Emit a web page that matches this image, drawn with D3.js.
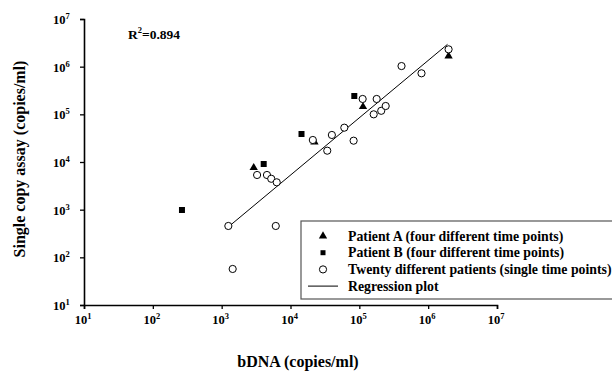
<!DOCTYPE html>
<html>
<head>
<meta charset="utf-8">
<script src="https://cdn.jsdelivr.net/npm/d3@7"></script>
<style>
   body { margin: 0; background: #fff; }
   svg { display: block; font-family: "Liberation Serif", "Times New Roman", serif; font-weight: bold; }
</style>
</head>
<body>
<div id="chart"></div>
<script>
"use strict";

// values (bDNA, single copy assay), copies/ml
const patientA = [
   [2920, 7600], [22300, 26300], [113000, 144600], [1.98e6, 1.67e6]
];
const patientB = [
   [265, 985], [4080, 9080], [14450, 38700], [84500, 242500]
];
const twentyPatients = [
   [1250, 455], [1445, 57], [3270, 5340], [4550, 5340], [5250, 4450],
   [6310, 3750], [6110, 455], [21100, 28950], [34200, 17270], [39900, 36900],
   [60500, 52500], [82600, 28000], [111700, 210000], [178600, 210000], [161700, 100000],
   [208000, 118600], [241500, 149600], [410000, 1.03e6], [800000, 726000], [1.98e6, 2.31e6]
];
const regression = [[1262, 440], [1.91e6, 2.94e6]];
const decades = [1, 2, 3, 4, 5, 6, 7];
const legendLabels = [
   "Patient A (four different time points)",
   "Patient B (four different time points)",
   "Twenty different patients (single time points)",
   "Regression plot"
];

(function () {
   const width = 612;
   const height = 371;

   const x = d3.scaleLog().domain([10, 1e7]).range([84, 497]);
   const y = d3.scaleLog().domain([10, 1e7]).range([305, 19]);

   const svg = d3.select("#chart").append("svg")
      .attr("width", width)
      .attr("height", height);

   // axes
   const xAxis = d3.axisBottom(x)
      .tickValues(decades.map(d => Math.pow(10, d)))
      .tickSize(4)
      .tickFormat("");
   const yAxis = d3.axisLeft(y)
      .tickValues(decades.map(d => Math.pow(10, d)))
      .tickSize(4)
      .tickFormat("");

   const gx = svg.append("g")
      .attr("transform", `translate(0,${y(10)})`)
      .call(xAxis);
   const gy = svg.append("g")
      .attr("transform", `translate(${x(10)},0)`)
      .call(yAxis);

   [gx, gy].forEach(g => {
      g.selectAll("path, line").attr("stroke", "#000").attr("stroke-width", 1.3);
      g.select(".domain").attr("stroke-width", 1.6);
   });

   function powerLabel(sel, exp) {
      sel.append("tspan").text("10");
      sel.append("tspan")
         .attr("dy", -5)
         .attr("font-size", 8.5)
         .text(exp);
   }

   svg.append("g").selectAll("text")
      .data(decades)
      .join("text")
      .attr("x", d => x(Math.pow(10, d)) - 1)
      .attr("y", 324)
      .attr("text-anchor", "middle")
      .attr("font-size", 12.5)
      .each(function (d) { powerLabel(d3.select(this), d); });

   svg.append("g").selectAll("text")
      .data(decades)
      .join("text")
      .attr("x", 53)
      .attr("y", d => y(Math.pow(10, d)) + 5)
      .attr("font-size", 12.5)
      .each(function (d) { powerLabel(d3.select(this), d); });

   // axis titles
   svg.append("text")
      .attr("x", 298)
      .attr("y", 367)
      .attr("text-anchor", "middle")
      .attr("font-size", 16)
      .text("bDNA (copies/ml)");

   svg.append("text")
      .attr("transform", "translate(25,159) rotate(-90)")
      .attr("text-anchor", "middle")
      .attr("font-size", 16)
      .text("Single copy assay (copies/ml)");

   const r2 = svg.append("text")
      .attr("x", 128)
      .attr("y", 39)
      .attr("font-size", 13.5);
   r2.append("tspan").text("R");
   r2.append("tspan").attr("dy", -6).attr("font-size", 8.5).text("2");
   r2.append("tspan").attr("dy", 6).text("=0.894");

   // regression line
   svg.append("line")
      .attr("x1", x(regression[0][0]))
      .attr("y1", y(regression[0][1]))
      .attr("x2", x(regression[1][0]))
      .attr("y2", y(regression[1][1]))
      .attr("stroke", "#000")
      .attr("stroke-width", 1);

   const triangle = d3.symbol().type(d3.symbolTriangle).size(30);
   const square = d3.symbol().type(d3.symbolSquare).size(36);

   svg.append("g").selectAll("path")
      .data(patientA)
      .join("path")
      .attr("transform", d => `translate(${x(d[0])},${y(d[1])})`)
      .attr("d", triangle)
      .attr("fill", "#000");

   svg.append("g").selectAll("path")
      .data(patientB)
      .join("path")
      .attr("transform", d => `translate(${x(d[0])},${y(d[1])})`)
      .attr("d", square)
      .attr("fill", "#000");

   svg.append("g").selectAll("circle")
      .data(twentyPatients)
      .join("circle")
      .attr("cx", d => x(d[0]))
      .attr("cy", d => y(d[1]))
      .attr("r", 3.6)
      .attr("fill", "#fff")
      .attr("stroke", "#000")
      .attr("stroke-width", 1);

   // legend
   const legend = svg.append("g").attr("transform", "translate(301,221)");
   legend.append("rect")
      .attr("width", 330)
      .attr("height", 78)
      .attr("fill", "#fff")
      .attr("stroke", "#555")
      .attr("stroke-width", 1.2);

   const rowY = i => 15 + i * 16.7;
   legend.selectAll("text")
      .data(legendLabels)
      .join("text")
      .attr("x", 47)
      .attr("y", (d, i) => rowY(i) + 4.5)
      .attr("font-size", 13.8)
      .text(d => d);

   legend.append("path")
      .attr("transform", `translate(22,${rowY(0)})`)
      .attr("d", triangle)
      .attr("fill", "#000");
   legend.append("path")
      .attr("transform", `translate(22,${rowY(1)})`)
      .attr("d", d3.symbol().type(d3.symbolSquare).size(25))
      .attr("fill", "#000");
   legend.append("circle")
      .attr("cx", 22)
      .attr("cy", rowY(2))
      .attr("r", 3.6)
      .attr("fill", "#fff")
      .attr("stroke", "#000");
   legend.append("line")
      .attr("x1", 7)
      .attr("x2", 37)
      .attr("y1", rowY(3))
      .attr("y2", rowY(3))
      .attr("stroke", "#000");
})();
</script>
</body>
</html>
